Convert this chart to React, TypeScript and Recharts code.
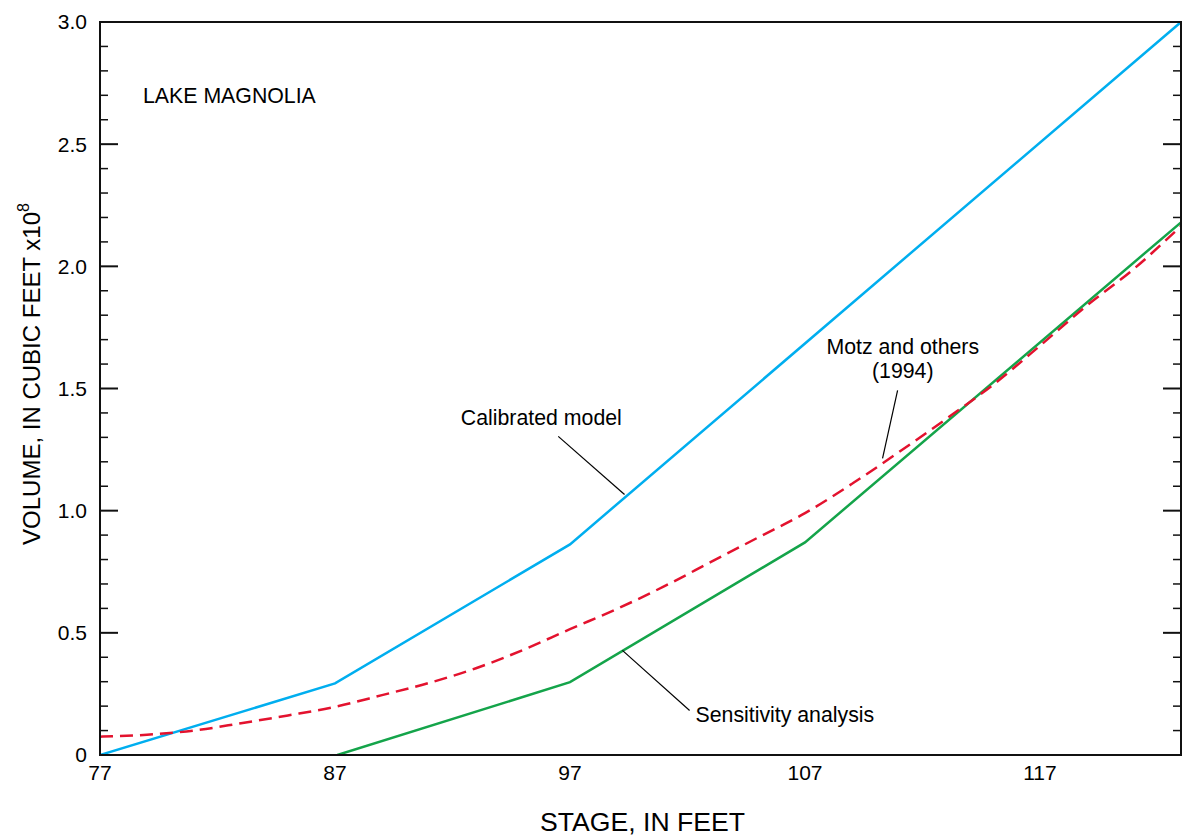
import { LineChart, Line, XAxis, YAxis, ReferenceLine, ReferenceDot } from 'recharts'

const FONT = '"Liberation Sans", Arial, Helvetica, sans-serif'

// axis ticks
const X_LABELED = [77, 87, 97, 107, 117]
const X_TICKS = [77, 78, 79, 80, 81, 82, 83, 84, 85, 86, 87, 88, 89, 90, 91, 92, 93, 94, 95, 96, 97, 98, 99, 100, 101, 102, 103, 104, 105, 106, 107, 108, 109, 110, 111, 112, 113, 114, 115, 116, 117, 118, 119, 120, 121, 122, 123]
const Y_LABELED = [0, 0.5, 1, 1.5, 2, 2.5, 3]
const Y_TICKS = [0, 0.1, 0.2, 0.3, 0.4, 0.5, 0.6, 0.7, 0.8, 0.9, 1, 1.1, 1.2, 1.3, 1.4, 1.5, 1.6, 1.7, 1.8, 1.9, 2, 2.1, 2.2, 2.3, 2.4, 2.5, 2.6, 2.7, 2.8, 2.9, 3]

// series (stage in feet, volume in cubic feet x10^8)
const calibratedStage = [77, 87, 97, 123]
const calibratedVolume = [0, 0.293, 0.862, 3.0]
const sensitivityStage = [87.1, 97, 107, 123]
const sensitivityVolume = [0, 0.298, 0.87, 2.18]
const motzStage = [77, 79, 81, 83, 85, 87, 89, 91, 93, 95, 97, 99, 101, 103, 105, 107, 109, 111, 113, 115, 117, 119, 121, 123]
const motzVolume = [0.075, 0.083, 0.1, 0.13, 0.162, 0.197, 0.245, 0.295, 0.355, 0.43, 0.515, 0.598, 0.69, 0.79, 0.89, 0.99, 1.11, 1.24, 1.375, 1.515, 1.675, 1.84, 1.99, 2.165]

const toRows = (xs: number[], ys: number[]) => xs.map((x, i) => ({ x, v: ys[i] }))

const calibrated = toRows(calibratedStage, calibratedVolume)
const sensitivity = toRows(sensitivityStage, sensitivityVolume)
const motz = toRows(motzStage, motzVolume)

// annotation anchors, in data units
const notes = [
  { x: 78.83, y: 2.667, lines: ['LAKE MAGNOLIA'], anchor: 'start' },
  { x: 95.78, y: 1.349, lines: ['Calibrated model'], anchor: 'middle' },
  { x: 102.34, y: 0.137, lines: ['Sensitivity analysis'], anchor: 'start' },
  { x: 111.16, y: 1.643, lines: ['Motz and others', '(1994)'], anchor: 'middle' },
]
const leaders = [
  [{ x: 96.5, y: 1.304 }, { x: 99.32, y: 1.066 }],
  [{ x: 99.23, y: 0.428 }, { x: 102.09, y: 0.182 }],
  [{ x: 110.94, y: 1.492 }, { x: 110.3, y: 1.214 }],
]

function TickMark(props: any) {
  const { x, y, payload, side } = props
  const v = payload?.value ?? 0
  const major = side === 'top' || side === 'bottom'
    ? (v - 77) % 10 === 0
    : Math.abs(v * 2 - Math.round(v * 2)) < 1e-6
  const len = major ? 18 : 8
  let x2 = x, y2 = y
  if (side === 'bottom') y2 = y - len
  if (side === 'top') y2 = y + len
  if (side === 'left') x2 = x + len
  if (side === 'right') x2 = x - len
  return <line x1={x} y1={y} x2={x2} y2={y2} stroke="#111" strokeWidth={major ? 2 : 1.5} />
}

function NoteText(props: any) {
  const vb = props.viewBox ?? {}
  const x = (vb.x ?? 0) + (vb.width ?? 0) / 2
  const y = (vb.y ?? 0) + (vb.height ?? 0) / 2
  return (
    <text x={x} y={y} textAnchor={props.anchor} fontSize={21.3} fontFamily={FONT} fill="#000">
      {props.lines.map((l: string, i: number) => (
        <tspan key={i} x={x} dy={i === 0 ? 0 : 24}>{l}</tspan>
      ))}
    </text>
  )
}

function XTitle(props: any) {
  const vb = props.viewBox ?? { x: 100, y: 755, width: 1081 }
  return (
    <text x={vb.x + vb.width / 2 + 2} y={vb.y + 76} textAnchor="middle" fontSize={26.6} fontFamily={FONT} fill="#000">
      STAGE, IN FEET
    </text>
  )
}

function YTitle(props: any) {
  const vb = props.viewBox ?? { x: 0, y: 22 }
  const cx = vb.x + 40
  const cy = 374
  return (
    <text x={cx} y={cy} transform={`rotate(-90, ${cx}, ${cy})`} textAnchor="middle" fontSize={24} fontFamily={FONT} fill="#000">
      VOLUME, IN CUBIC FEET x10<tspan fontSize={16} dy={-11}>8</tspan>
    </text>
  )
}

const border = { stroke: '#111', strokeWidth: 2, strokeLinecap: 'square' as const }

export default function App() {
  return (
    <div style={{ position: 'absolute', left: 0, top: 0, width: 1183, height: 836, background: '#fff' }}>
      <LineChart width={1183} height={836} margin={{ top: 22, right: 2, bottom: 0, left: 0 }}>
        <XAxis
          xAxisId="x"
          type="number"
          dataKey="x"
          domain={[77, 123]}
          allowDataOverflow
          ticks={X_LABELED}
          interval={0}
          height={81}
          tickLine={false}
          tickSize={0}
          tickMargin={10}
          axisLine={border}
          tick={{ fontSize: 21, fill: '#000', fontFamily: FONT }}
          label={<XTitle />}
        />
        <XAxis xAxisId="xb" type="number" domain={[77, 123]} allowDataOverflow ticks={X_TICKS} interval={0}
          orientation="bottom" mirror tickSize={0} tickMargin={0} tickLine={false} axisLine={false} tick={<TickMark side="bottom" />} />
        <XAxis xAxisId="xt" type="number" domain={[77, 123]} allowDataOverflow ticks={X_TICKS} interval={0}
          orientation="top" mirror tickSize={0} tickMargin={0} tickLine={false} axisLine={border} tick={<TickMark side="top" />} />
        <YAxis
          yAxisId="y"
          type="number"
          domain={[0, 3]}
          allowDataOverflow
          ticks={Y_LABELED}
          interval={0}
          width={100}
          tickLine={false}
          tickSize={0}
          tickMargin={13}
          axisLine={border}
          tick={{ fontSize: 21, fill: '#000', fontFamily: FONT }}
          tickFormatter={(v: number) => (v === 0 ? '0' : v.toFixed(1))}
          label={<YTitle />}
        />
        <YAxis yAxisId="yl" type="number" domain={[0, 3]} allowDataOverflow ticks={Y_TICKS} interval={0}
          orientation="left" mirror tickSize={0} tickMargin={0} tickLine={false} axisLine={false} tick={<TickMark side="left" />} />
        <YAxis yAxisId="yr" type="number" domain={[0, 3]} allowDataOverflow ticks={Y_TICKS} interval={0}
          orientation="right" mirror tickSize={0} tickMargin={0} tickLine={false} axisLine={border} tick={<TickMark side="right" />} />

        <Line xAxisId="x" yAxisId="y" data={calibrated} dataKey="v" type="linear" stroke="#00AEEF" strokeWidth={2.5} dot={false} activeDot={false} isAnimationActive={false} />
        <Line xAxisId="x" yAxisId="y" data={sensitivity} dataKey="v" type="linear" stroke="#14A44A" strokeWidth={2.5} dot={false} activeDot={false} isAnimationActive={false} />
        <Line xAxisId="x" yAxisId="y" data={motz} dataKey="v" type="monotone" stroke="#E3122E" strokeWidth={2.5} strokeDasharray="13 7" dot={false} activeDot={false} isAnimationActive={false} />

        {leaders.map((seg, i) => (
          <ReferenceLine key={i} xAxisId="x" yAxisId="y" segment={seg} stroke="#000" strokeWidth={1.2} />
        ))}
        {notes.map((n, i) => (
          <ReferenceDot key={i} xAxisId="x" yAxisId="y" x={n.x} y={n.y} r={0} fill="none" stroke="none"
            label={<NoteText lines={n.lines} anchor={n.anchor} />} />
        ))}
      </LineChart>
    </div>
  )
}
